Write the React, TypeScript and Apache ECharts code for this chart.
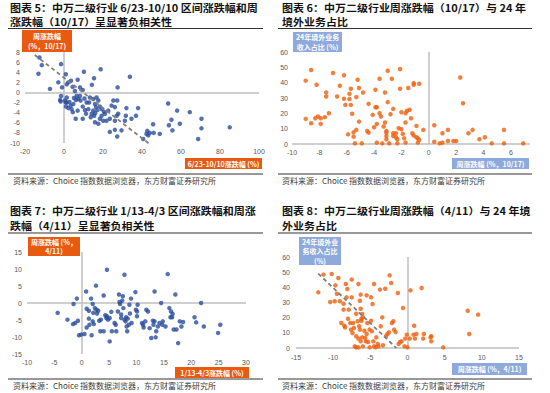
import React, { useEffect, useRef } from "react";
import * as echarts from "echarts";

// Panel 1: 6/23-10/10 change (x) vs weekly change 10/17 (y)
const P1_POINTS: [number, number][] = [
  [-12.6, 6.9], [-11.4, 5.4], [-13.1, 3.7], [-1.5, 5.6], [0.9, 3.6], [-2.9, 2.0], [-7.2, 0.7], [-1, 1],
  [1.4, 1.6], [2.2, 2], [3.6, 2.3], [7, 2.5], [10.2, 4.1], [18.8, 4.6], [15.4, 2.8], [14.3, 1.5],
  [4.4, 1.1], [8.2, 1.0], [9.6, 0.5], [5.6, 0.3], [33.8, 3.1], [27.5, 1.0], [-1.5, -0.7], [-2, -1.5],
  [0.5, -1.6], [1.4, -2], [1, -2.8], [2.2, -3.1], [3.9, -3.3], [3.4, -2.6], [4.8, -2.3], [6.1, -1.5],
  [7.3, -1.3], [8.5, -1.6], [8.2, -0.7], [6.5, -0.7], [5.1, -1.1], [9.6, -2.8], [7, -3.6], [6, -5.2],
  [9.6, -5.2], [11.3, -4.2], [12.5, -3.3], [12.9, -2], [13.3, -1], [15, -1.3], [15.9, -2.3], [16.7, -1],
  [17.6, -1.6], [16.4, -2.9], [17.1, -3.5], [18.4, -2.8], [19.3, -3.3], [15, -3.6], [14.2, -4.2], [15.5, -4.6],
  [13.7, -4.9], [15.9, -5.9], [17.6, -6.2], [18.4, -5.2], [20.1, -5.6], [21.8, -5.6], [23.5, -5.2], [19.3, -4.6],
  [21, -4.2], [22.7, -3.6], [24.4, -2.6], [26.1, -2.9], [25.3, -1.6], [27.3, -1.6], [27.8, -4.2], [27, -4.6],
  [26.1, -5.6], [23.5, -7.8], [26.1, -7.4], [27.3, -8.7], [29.5, -7.5], [31.2, -5.6], [31.7, -4.6], [32, -3.1],
  [34.6, -5.2], [36.9, -4.6], [38, -3.1], [40.6, -9.2], [42.3, -8.2], [42.7, -7.6], [44, -8], [43.2, -8.5],
  [45.7, -6.3], [46, -8], [49.1, -8.2], [53.4, -2.2], [53.8, -6.5], [55.1, -5.4], [55.6, -7.5], [58, -3.6],
  [59.4, -6.2], [64.5, -3.9], [70.5, -5.2], [70.5, -7.1], [68.8, -9.2], [85, -6.9], [10.8, -3.5], [11.6, -2],
  [1.4, -1], [-1.7, -1.8], [0.9, -2], [2.8, -1.9], [4.5, -3.9], [10.5, -1.2], [16, -4.1], [20.5, -3.8]
];
const P1_TREND: [number, number][] = [[-15, 7.4], [44.5, -10.4]];

// Panel 2: weekly change 10/17 (x) vs 2024 overseas revenue share (y)
const P2_POINTS: [number, number][] = [
  [-9.0, 41.3], [-8.6, 48.3], [-9.0, 16.4], [-8.6, 13.5], [-8.3, 16.8], [-8.1, 17.9], [-8.2, 38.6], [-7.9, 16.8],
  [-7.9, 13.1], [-7.6, 17.5], [-7.5, 33.6], [-7.5, 31], [-7.3, 20.1], [-7.0, 46.3], [-6.7, 31], [-6.5, 38],
  [-6.2, 44.8], [-6.2, 29.5], [-6.1, 25.5], [-5.8, 32.8], [-5.8, 29.3], [-5.7, 36], [-5.7, 25.5], [-5.6, 19.7],
  [-5.9, 6.3], [-5.5, 4.8], [-5.5, 7.6], [-5.4, 0.4], [-5.3, 30.6], [-5.2, 41.9], [-5.1, 36.5], [-5.1, 14.6],
  [-5.3, 9.2], [-4.9, 0.4], [-4.8, 33.6], [-4.5, 8.5], [-4.4, 26.2], [-4.4, 7.4], [-4.1, 19], [-4.0, 10.9],
  [-3.9, 35.4], [-3.9, 24], [-3.8, 24], [-3.8, 13.1], [-3.8, 0.9], [-3.6, 42.6], [-3.6, 20.1], [-3.5, 17.9],
  [-3.4, 0.4], [-3.3, 11.4], [-3.2, 14], [-3.2, 33.6], [-3.1, 8.5], [-3.1, 7.4], [-3.1, 5.2], [-3.1, 3.1],
  [-3.0, 47.8], [-3.0, 27.3], [-2.9, 0.4], [-2.8, 19.4], [-2.7, 42.6], [-2.6, 22.9], [-2.6, 7], [-2.6, 5.2],
  [-2.4, 7], [-2.4, 4.4], [-2.3, 3.1], [-2.3, 0.4], [-2.2, 10.3], [-2.1, 48.9], [-2.1, 36], [-2.0, 20.7],
  [-2.0, 9.6], [-1.9, 6.6], [-1.8, 3.7], [-1.7, 0.9], [-1.7, 20.1], [-1.7, 14], [-1.6, 21.6], [-1.5, 36.5],
  [-1.4, 22.3], [-1.3, 16.8], [-1.1, 39.7], [-1.1, 38.6], [-1.2, 7], [-1.1, 5.5], [-0.9, 11.8], [-0.9, 4.4],
  [-0.8, 3.7], [-0.7, 2.6], [-0.8, 0.9], [-0.7, 39.3], [-0.4, 9.2], [0.4, 12.2], [0.4, 1.5], [0.8, 0.4],
  [1.0, 0.9], [1.0, 7], [1.4, 9.2], [1.4, 2], [1.8, 2], [2.0, 2], [2.3, 43.4], [2.5, 26.6],
  [2.9, 7], [3.2, 9.2], [3.7, 3.1], [4.1, 4.4], [4.6, 0.4], [5.5, 9.2], [5.5, 0.4], [6.9, 0.4]
];

// Panel 3: 1/13-4/3 change (x) vs weekly change 4/11 (y)
const P3_POINTS: [number, number][] = [
  [-4.4, -2.9], [-2.6, -4.9], [-1.5, -0.3], [-1.6, -6.2], [-1.2, -5.9], [-0.9, 1.3], [-0.7, -5.2], [-0.5, -9.5],
  [-0.1, -9.3], [0.5, -9.1], [0.8, 3.4], [0.9, -1.7], [1.3, -2.3], [1.3, -4.6], [0.9, -7.2], [1.4, -6.4],
  [1.7, 1.3], [1.8, -9.5], [2.0, -0.3], [2.1, -2.9], [2.0, -5.4], [2.2, -6.2], [2.4, -1.5], [2.6, 5.1],
  [2.7, -2.0], [2.8, -3.1], [3.0, -2.3], [3.2, -5.2], [3.4, -8.3], [3.5, -4.9], [4.0, 2.2], [4.0, -8.3],
  [4.6, 9.8], [4.3, -3.6], [4.5, -4.4], [4.6, -3.9], [4.8, -4.9], [5.1, -4.4], [5.1, -11.3], [5.4, -2.6],
  [5.5, -8.3], [6.0, -5.9], [6.2, -6.4], [6.3, -8.3], [6.6, -2.5], [6.8, 2.5], [6.9, 0.3], [7.0, -0.3],
  [7.2, -3.4], [7.2, -4.4], [7.4, 0.7], [7.5, 2.0], [7.6, -1.5], [7.8, 8.3], [7.8, -4.9], [8.0, -5.4],
  [8.1, -4.2], [8.2, -6.9], [8.3, -8.3], [8.4, -4.6], [8.6, -6.4], [8.7, -0.5], [8.8, -3.1], [9.0, 1.3],
  [9.1, -5.9], [9.8, 3.2], [9.9, -2.0], [10.1, -2.5], [10.1, -3.9], [10.2, -0.5], [11.0, -5.9], [11.2, -6.4],
  [11.3, -7.2], [11.6, -5.4], [11.8, -2.0], [12.1, -2.5], [12.4, -7.4], [12.7, -10.3], [13.0, -5.2], [13.1, -6.4],
  [13.3, -5.4], [13.3, 3.4], [13.5, -10.1], [13.6, -8.3], [13.9, -6.9], [14.2, -5.9], [14.5, 0], [14.7, -6.4],
  [14.8, -5.4], [15.3, -6.9], [15.7, 8.5], [16.0, -1.5], [16.2, -4.2], [16.3, -2.5], [16.5, -4.2], [16.6, -3.2],
  [16.8, -7.8], [17.1, 2.5], [17.3, -7.8], [17.6, -11.8], [17.9, -5.4], [18.2, -6.9], [18.5, -5.6], [20.6, -4.2],
  [20.9, -5.7], [21.8, 0], [22.3, -6.9], [24.9, -8.8], [25.3, -6.4]
];

// Panel 4: weekly change 4/11 (x) vs 2024 overseas revenue share (y)
const P4_POINTS: [number, number][] = [
  [-12.0, 36.7], [-11.3, 48.4], [-10.4, 30.3], [-10.2, 48.8], [-9.8, 30.8], [-9.7, 41.3], [-9.5, 35.8], [-9.3, 46.2],
  [-9.1, 30.8], [-8.9, 16.5], [-8.6, 29.2], [-8.6, 25.3], [-8.5, 14.7], [-8.4, 13.6], [-8.3, 42.2], [-8.2, 33.4],
  [-8.1, 38.9], [-8.0, 19.3], [-7.9, 25.3], [-7.7, 16.5], [-7.6, 12.1], [-7.5, 45.1], [-7.5, 33.4], [-7.4, 9.9],
  [-7.3, 16.5], [-7.2, 13.2], [-7.1, 1.1], [-6.9, 7.7], [-6.9, 0.4], [-6.9, 22.6], [-6.7, 17.6], [-6.6, 42.2],
  [-6.6, 6.2], [-6.6, 0.4], [-6.5, 14.3], [-6.4, 31.2], [-6.4, 12.1], [-6.3, 35.2], [-6.3, 25.9], [-6.3, 4.4],
  [-6.2, 19.3], [-6.2, 18], [-6.1, 22.4], [-6.1, 7], [-6.0, 1.1], [-6.0, 20.2], [-5.8, 11.4], [-5.7, 6.6],
  [-5.6, 4.4], [-5.5, 34.7], [-5.5, 9.2], [-5.4, 16.5], [-5.3, 4], [-5.1, 12.1], [-5.1, 0.4], [-4.9, 33.4],
  [-4.9, 18], [-4.8, 11], [-4.7, 29], [-4.6, 4.4], [-4.5, 42.2], [-4.5, 1.1], [-4.3, 0.4], [-4.2, 7],
  [-4.0, 2.6], [-3.9, 1.1], [-3.7, 38.5], [-3.6, 14.3], [-3.4, 20.2], [-3.3, 1.8], [-3.0, 39.1], [-2.9, 7.7],
  [-2.7, 9.2], [-2.5, 10.3], [-2.4, 47.9], [-2.2, 42.9], [-2.1, 16.5], [-1.9, 17.6], [-1.8, 12.1], [-1.6, 10.5],
  [-1.3, 36.3], [-1.2, 2.6], [-1.0, 4], [-0.8, 4.4], [-0.6, 26.4], [-0.4, 1.1], [-0.3, 6.2], [-0.1, 8.8],
  [0, 0.4], [0.3, 6.2], [0.4, 38], [0.8, 8.8], [0.9, 14.7], [1.0, 6.2], [1.2, 9.2], [1.9, 39.6],
  [2.1, 6.2], [2.2, 9.2], [3.1, 7], [3.2, 4.4], [3.2, 7.7], [4.8, 0.4], [8.1, 24.6], [8.3, 9.2],
  [9.5, 22]
];
const P4_TREND: [number, number][] = [[-12, 49], [-1.5, 0]];

const BLUE_DOT = "#2B4D9C";
const ORANGE_DOT = "#F05F0C";
const ORANGE_BOX = "#E85A10";
const BLUE_BOX = "#8EA9DB";
const AXIS_GRAY = "#BFBFBF";
const LABEL_FONT = "'Liberation Sans', Arial, sans-serif";
const CJK_FONT = "'Noto Sans CJK SC', sans-serif";

function makeAxes(idx: number, min: number, max: number, interval: number, margin: number, hideMax = false) {
  return {
    type: "value",
    gridIndex: idx,
    min,
    max,
    interval,
    axisLine: { show: false },
    axisTick: { show: false },
    splitLine: { show: false },
    axisLabel: {
      fontSize: 7,
      color: "#595959",
      fontFamily: LABEL_FONT,
      margin,
      showMaxLabel: hideMax ? false : undefined,
    },
  };
}

function zeroLines() {
  return {
    silent: true,
    symbol: ["none", "none"],
    label: { show: false },
    lineStyle: { color: AXIS_GRAY, type: "solid", width: 1.5 },
    data: [{ xAxis: 0 }, { yAxis: 0 }],
    z: 1,
  };
}

function box(x: number, y: number, w: number, h: number, fill: string, text: string, fs = 7) {
  return {
    type: "group",
    children: [
      { type: "rect", shape: { x, y, width: w, height: h }, style: { fill } },
      {
        type: "text",
        x: x + w / 2,
        y: y + h / 2,
        style: {
          text,
          fill: "#fff",
          font: `bold ${fs}px ${CJK_FONT}`,
          align: "center",
          verticalAlign: "middle",
          lineHeight: fs + 2.5,
        },
      },
    ],
  };
}

// one title line; 10px glyphs stretched horizontally to the reference width
function title(x: number, yTop: number, text: string) {
  return {
    type: "text",
    x,
    y: yTop,
    scaleX: 1.1,
    style: {
      text,
      fill: "#111",
      font: `bold 10px ${CJK_FONT}`,
      verticalAlign: "top",
      lineHeight: 14.5,
    },
  };
}

function hline(x1: number, x2: number, y: number) {
  return { type: "line", shape: { x1, y1: y, x2, y2: y }, style: { stroke: "#333", lineWidth: 1 } };
}

function source(x: number, y: number) {
  return {
    type: "text",
    x,
    y,
    style: {
      text: "资料来源：Choice 指数数据浏览器，东方财富证券研究所",
      fill: "#404040",
      font: `8px ${CJK_FONT}`,
      verticalAlign: "middle",
      lineHeight: 9,
    },
  };
}

export default function App() {
  const ref = useRef<HTMLDivElement>(null);
  useEffect(() => {
    if (!ref.current) return;
    const chart = echarts.init(ref.current, null, { renderer: "svg" });
    const scatter = (idx: number, data: [number, number][], color: string) => ({
      type: "scatter",
      xAxisIndex: idx,
      yAxisIndex: idx,
      data,
      symbolSize: 4.5,
      itemStyle: { color },
      z: 3,
      markLine: zeroLines(),
    });
    const trend = (idx: number, data: [number, number][]) => ({
      type: "line",
      xAxisIndex: idx,
      yAxisIndex: idx,
      data,
      symbol: "none",
      clip: false,
      lineStyle: { color: "#7F7F7F", width: 1.8, type: [4, 3] },
      z: 4,
    });
    chart.setOption({
      animation: false,
      backgroundColor: "#fff",
      grid: [
        { left: 25, top: 52, width: 234, height: 91 },
        { left: 292, top: 52, width: 238, height: 92 },
        { left: 27, top: 252, width: 219, height: 102 },
        { left: 296, top: 257, width: 223, height: 91 },
      ],
      xAxis: [
        makeAxes(0, -20, 100, 20, 5),
        makeAxes(1, -10, 7.4, 2, 5, true),
        makeAxes(2, -10, 30, 5, 5),
        makeAxes(3, -15, 15, 5, 6),
      ],
      yAxis: [
        makeAxes(0, -10, 8, 2, 5),
        makeAxes(1, 0, 60, 10, 4),
        makeAxes(2, -15, 15, 5, 5),
        makeAxes(3, 0, 60, 10, 6),
      ],
      series: [
        scatter(0, P1_POINTS, BLUE_DOT),
        trend(0, P1_TREND),
        scatter(1, P2_POINTS, ORANGE_DOT),
        scatter(2, P3_POINTS, BLUE_DOT),
        scatter(3, P4_POINTS, ORANGE_DOT),
        trend(3, P4_TREND),
      ],
      graphic: [
        title(10, 0, "图表 5：中万二级行业 6/23-10/10 区间涨跌幅和周"),
        title(10, 14.5, "涨跌幅（10/17）呈显著负相关性"),
        title(282, 0, "图表 6：中万二级行业周涨跌幅（10/17）与 24 年"),
        title(282, 14.5, "境外业务占比"),
        title(10, 203.5, "图表 7：中万二级行业 1/13-4/3 区间涨跌幅和周涨"),
        title(10, 218, "跌幅（4/11）呈显著负相关性"),
        title(282, 203.5, "图表 8：中万二级行业周涨跌幅（4/11）与 24 年境"),
        title(282, 218, "外业务占比"),
        hline(8, 263, 28.5),
        hline(278, 532, 28.5),
        hline(8, 263, 233),
        hline(278, 532, 233),
        hline(8, 263, 174),
        hline(278, 532, 174),
        hline(8, 263, 379),
        hline(278, 532, 379),
        source(13, 180),
        source(282, 180),
        source(13, 385),
        source(282, 385),
        box(22, 30, 50, 22, ORANGE_BOX, "周涨跌幅\n(%，10/17)"),
        box(185, 158, 77, 11, ORANGE_BOX, "6/23-10/10涨跌幅 (%)"),
        box(293, 32, 49, 20, BLUE_BOX, "24年境外业务\n收入占比 (%)"),
        box(452, 158, 77, 11, BLUE_BOX, "周涨跌幅 (%，10/17)"),
        box(28, 237, 52, 19, ORANGE_BOX, "周涨跌幅 (%，\n4/11)"),
        box(175, 367, 74, 11, ORANGE_BOX, "1/13-4/3涨跌幅 (%)"),
        box(299, 237, 42, 28, BLUE_BOX, "24年境外业\n务收入占比\n(%)"),
        box(452, 363, 75, 12, BLUE_BOX, "周涨跌幅 (%，4/11)"),
      ],
    });
    return () => chart.dispose();
  }, []);
  return (
    <div style={{ position: "absolute", left: 0, top: 0, width: 550, height: 393, background: "#fff" }}>
      <div ref={ref} style={{ width: 550, height: 393 }} />
    </div>
  );
}
